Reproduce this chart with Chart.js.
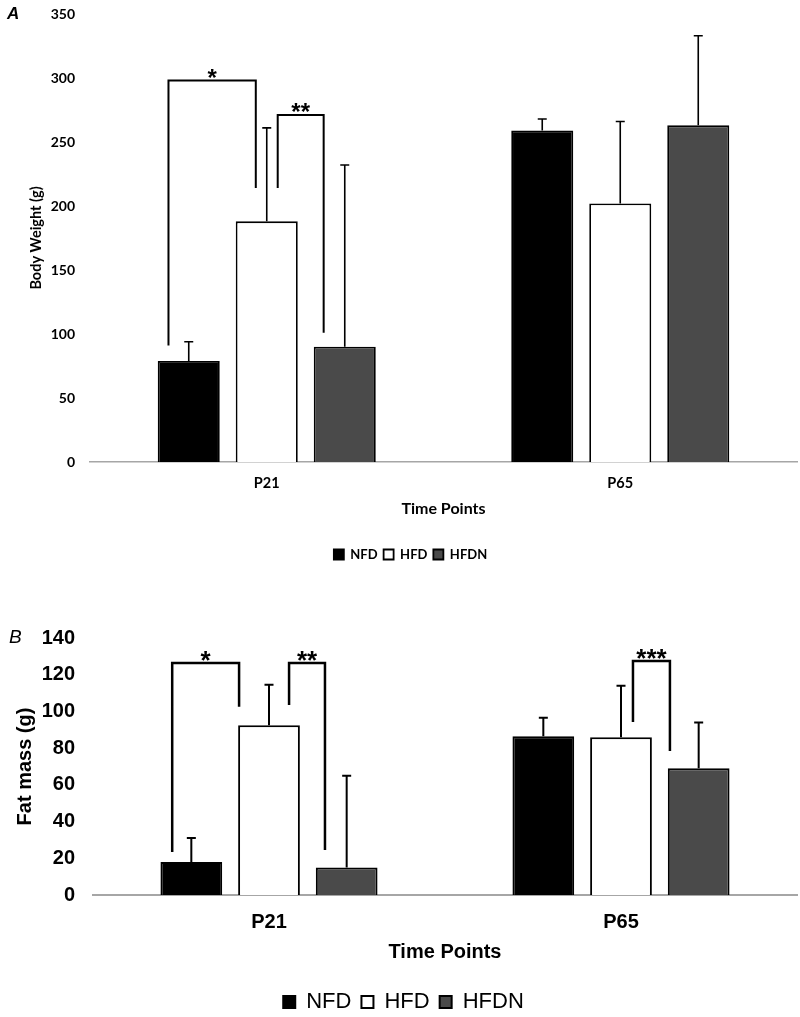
<!DOCTYPE html>
<html>
<head>
<meta charset="utf-8">
<script src="https://cdn.jsdelivr.net/npm/chart.js@4.4.0/dist/chart.umd.min.js"></script>
<style>
  html, body { margin: 0; padding: 0; background: #fff; overflow: hidden; }
  .wrap { position: absolute; left: 0; width: 800px; }
  #wrapA { top: 0; height: 571px; }
  #wrapB { top: 567px; height: 456px; }
</style>
</head>
<body>
<div class="wrap" id="wrapA"><canvas id="chartA"></canvas></div>
<div class="wrap" id="wrapB"><canvas id="chartB"></canvas></div>
<script>
const timePoints = ['P21', 'P65'];
const groups = ['NFD', 'HFD', 'HFDN'];

// Panel A - body weight (g), means and upper error
const bodyNFD = [79, 259];
const bodyHFD = [188, 202];
const bodyHFDN = [90, 263];
const bodyErrNFD = [15, 9];
const bodyErrHFD = [73, 64];
const bodyErrHFDN = [142, 70];
const bodyTicks = [0, 50, 100, 150, 200, 250, 300, 350];

// Panel B - fat mass (g)
const fatNFD = [18, 86.5];
const fatHFD = [92.5, 86];
const fatHFDN = [15, 69];
const fatErrNFD = [13, 10];
const fatErrHFD = [22, 28];
const fatErrHFDN = [50, 25];
const fatTicks = [0, 20, 40, 60, 80, 100, 120, 140];

// significance brackets: x in category units, top / leg ends in axis units
const bodyBrackets = [
  { label: '*', x: [-0.278, -0.031], top: 298, legs: [91, 214] },
  { label: '**', x: [0.031, 0.161], top: 271, legs: [214, 101] }
];
const fatBrackets = [
  { label: '*', x: [-0.275, -0.085], top: 126.4, legs: [23.4, 102.5] },
  { label: '**', x: [0.057, 0.159], top: 126.4, legs: [103.5, 24.5] },
  { label: '***', x: [1.034, 1.139], top: 127.5, legs: [94.3, 78.5] }
];

const fills = ['#000000', '#ffffff', '#4a4a4a'];

function makeDatasets(values, errors, bw) {
  return groups.map((g, i) => ({
    label: g,
    data: values[i],
    errors: errors[i],
    backgroundColor: fills[i],
    borderColor: '#000',
    borderWidth: bw,
    categoryPercentage: 0.662,
    barPercentage: 0.795
  }));
}

const annotate = {
  id: 'annotate',
  afterDatasetsDraw(chart, args, opts) {
    const ctx = chart.ctx;
    const x = chart.scales.x, y = chart.scales.y;
    ctx.save();
    ctx.strokeStyle = '#000';
    ctx.fillStyle = '#000';
    ctx.lineWidth = opts.errWidth;
    chart.data.datasets.forEach((ds, i) => {
      chart.getDatasetMeta(i).data.forEach((bar, j) => {
        const top = y.getPixelForValue(ds.data[j] + ds.errors[j]);
        ctx.beginPath();
        ctx.moveTo(bar.x, bar.y);
        ctx.lineTo(bar.x, top);
        ctx.moveTo(bar.x - 4.5, top);
        ctx.lineTo(bar.x + 4.5, top);
        ctx.stroke();
      });
    });

    ctx.lineWidth = opts.bracketWidth;
    ctx.font = opts.starFont;
    ctx.textAlign = 'center';
    ctx.textBaseline = 'alphabetic';
    opts.brackets.forEach(b => {
      const x1 = x.getPixelForValue(b.x[0]);
      const x2 = x.getPixelForValue(b.x[1]);
      const yt = y.getPixelForValue(b.top);
      ctx.beginPath();
      ctx.moveTo(x1, y.getPixelForValue(b.legs[0]));
      ctx.lineTo(x1, yt);
      ctx.lineTo(x2, yt);
      ctx.lineTo(x2, y.getPixelForValue(b.legs[1]));
      ctx.stroke();
      ctx.fillText(b.label, (x1 + x2) / 2, yt + opts.starShift);
    });

    ctx.font = opts.letterFont;
    ctx.textAlign = 'left';
    ctx.textBaseline = 'middle';
    ctx.fillText(opts.letter, opts.letterX, y.getPixelForValue(y.max));
    ctx.restore();
  }
};

// Panel A
new Chart(document.getElementById('chartA'), {
  type: 'bar',
  data: {
    labels: timePoints,
    datasets: makeDatasets([bodyNFD, bodyHFD, bodyHFDN], [bodyErrNFD, bodyErrHFD, bodyErrHFDN], 1.8)
  },
  plugins: [annotate],
  options: {
    responsive: true,
    maintainAspectRatio: false,
    animation: false,
    layout: { padding: { top: 14, left: 24, right: 3, bottom: 0 } },
    plugins: {
      tooltip: { enabled: false },
      legend: {
        position: 'bottom',
        labels: {
          color: '#000',
          font: { family: 'Lato', size: 13, weight: 'bold' },
          boxWidth: 10,
          boxHeight: 10,
          padding: 6
        }
      },
      annotate: {
        brackets: bodyBrackets,
        errWidth: 1.6,
        bracketWidth: 2,
        starFont: 'bold 24px "Liberation Sans"',
        starShift: 5,
        letter: 'A',
        letterX: 7,
        letterFont: 'italic bold 17px "Liberation Sans"'
      }
    },
    scales: {
      x: {
        grid: { display: false, drawTicks: false },
        border: { display: true, color: '#a6a6a6', width: 1.5 },
        ticks: { color: '#000', padding: 13, font: { family: 'Lato', size: 14.5, weight: 'bold' } },
        title: {
          display: true, text: 'Time Points', color: '#000',
          font: { family: 'Lato', size: 16, weight: 'bold' },
          padding: { top: 0, bottom: 24 }
        },
        afterFit: s => { s.height = 80; }
      },
      y: {
        min: 0, max: 350,
        afterBuildTicks: s => { s.ticks = bodyTicks.map(v => ({ value: v })); },
        grid: { display: false, drawTicks: false },
        border: { display: false },
        ticks: { color: '#000', padding: 15, font: { family: 'Lato', size: 14, weight: 'bold' } },
        title: {
          display: true, text: 'Body Weight (g)', color: '#000',
          font: { family: 'Lato', size: 14.5, weight: 'bold' },
          padding: { top: 4, bottom: 0 }
        },
        afterFit: s => { s.width = 66; s.paddingTop = 0; }
      }
    }
  }
});

// Panel B
new Chart(document.getElementById('chartB'), {
  type: 'bar',
  data: {
    labels: timePoints,
    datasets: makeDatasets([fatNFD, fatHFD, fatHFDN], [fatErrNFD, fatErrHFD, fatErrHFDN], 2)
  },
  plugins: [annotate],
  options: {
    responsive: true,
    maintainAspectRatio: false,
    animation: false,
    layout: { padding: { top: 71, left: 10, right: 3, bottom: 0 } },
    plugins: {
      tooltip: { enabled: false },
      legend: {
        position: 'bottom',
        labels: {
          color: '#000',
          font: { family: 'Liberation Sans', size: 22 },
          boxWidth: 12,
          boxHeight: 12,
          padding: 10
        }
      },
      annotate: {
        brackets: fatBrackets,
        errWidth: 2,
        bracketWidth: 2.5,
        starFont: 'bold 26px "Liberation Sans"',
        starShift: 6,
        letter: 'B',
        letterX: 9,
        letterFont: 'italic 19px "Liberation Sans"'
      }
    },
    scales: {
      x: {
        grid: { display: false, drawTicks: false },
        border: { display: true, color: '#a6a6a6', width: 2 },
        ticks: { color: '#000', padding: 15, font: { family: 'Liberation Sans', size: 20, weight: 'bold' } },
        title: {
          display: true, text: 'Time Points', color: '#000',
          font: { family: 'Liberation Sans', size: 20, weight: 'bold' },
          padding: { top: 0, bottom: 17 }
        },
        afterFit: s => { s.height = 86; }
      },
      y: {
        min: 0, max: 140,
        afterBuildTicks: s => { s.ticks = fatTicks.map(v => ({ value: v })); },
        grid: { display: false, drawTicks: false },
        border: { display: false },
        ticks: { color: '#000', padding: 18, font: { family: 'Liberation Sans', size: 20, weight: 'bold' } },
        title: {
          display: true, text: 'Fat mass (g)', color: '#000',
          font: { family: 'Liberation Sans', size: 20, weight: 'bold' },
          padding: { top: 3, bottom: 0 }
        },
        afterFit: s => { s.width = 83; }
      }
    }
  }
});
</script>
</body>
</html>
